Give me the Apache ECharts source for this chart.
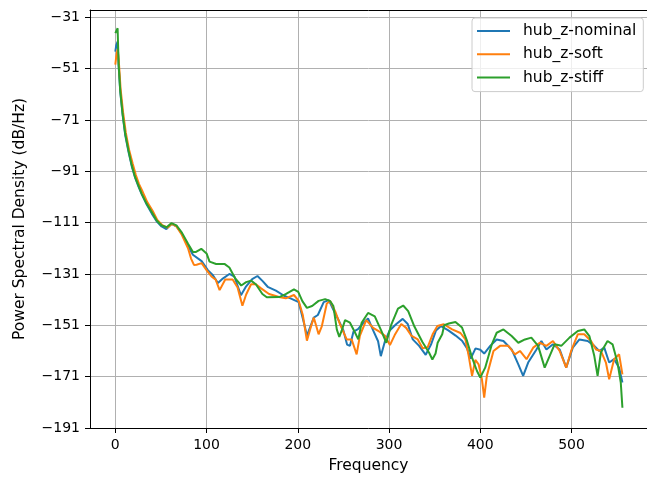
<!DOCTYPE html>
<html>
<head>
<meta charset="utf-8">
<script src="https://cdn.jsdelivr.net/npm/echarts@6/dist/echarts.min.js"></script>
<style>
    html, body { margin: 0; padding: 0; background: #fff; }
    #psd_chart { width: 647px; height: 479px; }
</style>
</head>
<body>
<div id="psd_chart"></div>
<script>
// PSD curves (frequency, dB/Hz)
var freqNominal = [0, 1, 2.5, 3.6, 5.4, 8, 10.9, 14.5, 18, 21.7, 25.4, 29, 34.4, 40, 45.3, 50.7, 56, 61.6, 67, 72.5, 79.7, 85, 94.6, 101.4, 107, 112.5, 117.8, 125, 130.5, 137.7, 143.4, 150, 155.8, 161.5, 167, 176, 185, 192, 201, 206.7, 210, 214, 217.5, 222, 228.4, 234, 239, 244.7, 250, 254, 257.2, 261, 266, 271.7, 277, 282.6, 288, 291, 295.3, 300.7, 308, 315, 320.5, 326, 333, 340.2, 346, 351.5, 357, 365, 373, 380, 385.5, 389.5, 394.8, 400, 404.3, 410.9, 418, 425.4, 434.4, 441.7, 447, 452.5, 461.6, 467, 472.5, 479.7, 487, 494.2, 501.4, 508.7, 517.8, 525, 530.4, 535.9, 541.3, 546.7, 552.2, 555.8];
var psdNominal = [-44.4, -42, -40.5, -49.5, -60, -69, -77, -83.5, -89, -93.5, -97, -100, -104, -107.5, -110.5, -112.5, -113.5, -111.5, -112.5, -115, -120, -123.5, -126, -129.5, -131.5, -134.5, -132.8, -131, -132, -139.3, -135.8, -133, -131.8, -133.8, -136, -137.5, -139.5, -140.5, -142, -150, -155, -151.3, -148, -147, -142, -141.2, -145, -149, -153, -158.5, -159, -153.5, -152.5, -150.1, -148.3, -153, -157.2, -163, -157.5, -153, -150.5, -148.5, -150.5, -156.5, -159, -162.5, -158.5, -153, -151.3, -153, -155, -157, -160, -164, -160, -160.5, -162, -159, -156.5, -157.1, -160.4, -166.2, -170.7, -165.5, -160.4, -157.1, -160.4, -158.4, -160.4, -167.5, -159.7, -156.5, -157.1, -159, -161, -159.7, -165.5, -164.2, -167.5, -173.3];

var freqSoft = [0, 1, 2.5, 3.8, 5.8, 8.5, 11.5, 15, 19, 22.5, 26, 30, 35, 41, 46, 51.5, 57, 62, 67, 72.5, 79.7, 83, 86.2, 89, 94.6, 100, 105.4, 110, 114.3, 120.5, 128.6, 134, 139.3, 143.4, 148.8, 154, 159.4, 168.5, 179.5, 186.8, 195.8, 201, 205.5, 210, 214, 217.5, 220, 222.8, 226.4, 231.8, 235.5, 240.9, 246.4, 253.6, 259, 264.5, 268.1, 275, 282.6, 289.9, 295.3, 301, 306.2, 313.4, 318.8, 324.3, 331.5, 337, 342.4, 347.8, 353, 360, 369.2, 378.3, 383.7, 387.3, 391, 394.6, 398.2, 401.8, 404.3, 407.2, 414.5, 421.7, 430.8, 438, 443.5, 450.7, 458, 465.2, 472.5, 479.7, 487, 494.2, 499.6, 506.9, 514, 521.4, 526.8, 532.2, 537.7, 541.3, 546.7, 552.2, 555.8];
var psdSoft = [-49.5, -46.5, -43.5, -48, -59, -68, -76, -82.5, -88, -92.5, -96, -99, -103, -106.5, -110, -112, -113, -111.5, -112.5, -115.5, -121, -125, -127.5, -127.4, -126.8, -129.5, -132, -133.2, -137.3, -133.2, -133.2, -136.3, -143.4, -139, -135, -135, -136.5, -138.8, -140, -140.5, -139.2, -141.5, -147, -157, -152, -148, -151, -154.5, -151.3, -142.5, -141.6, -145.5, -150.7, -156.5, -156.5, -162.3, -155, -149, -152, -153.6, -155, -158.7, -154.8, -150.5, -152, -155, -156.5, -160, -159.5, -154.5, -151.3, -150.6, -152.6, -154, -156.5, -162.9, -170.7, -164.5, -166.2, -172, -179.2, -170.7, -161, -159, -159, -162.3, -161, -164.2, -159.7, -157.8, -159, -157.1, -161, -167.5, -161, -154.5, -154.5, -157.1, -160.4, -161, -165.5, -172, -164.2, -162.3, -170.1];

var freqStiff = [0, 1, 2.5, 3.6, 5.4, 8, 10.9, 14.5, 18.1, 21.7, 25.4, 29, 34.4, 39.9, 45.3, 50.7, 56.2, 61.6, 67, 72.5, 79.7, 85.1, 88, 94.2, 100, 103.3, 110.5, 119.6, 125, 131, 138, 143.4, 148.8, 154, 161.2, 166, 179.5, 186.7, 195.8, 200.5, 205, 210, 215.7, 222.8, 230, 235.6, 239, 242.8, 245.5, 248, 251.8, 257.2, 262.7, 266.3, 270, 277, 284.4, 291.7, 297, 302.5, 309.8, 315.5, 321, 327.8, 336.6, 343.8, 347.5, 351, 353.3, 358.3, 360.5, 365.6, 372.8, 380, 385.5, 391, 396.4, 400, 405.4, 412.7, 418, 425.4, 434.4, 441.7, 449, 456, 463.4, 470.6, 476, 481.5, 488.8, 497.8, 506.9, 514, 519.6, 525, 528.6, 532.2, 539.5, 545, 550.4, 554, 555.8];
var psdStiff = [-37.2, -36.5, -35.3, -49.3, -59.6, -68.7, -76.5, -83, -88.8, -93.3, -96.6, -99.8, -103.7, -106.9, -110.2, -112.1, -112.8, -111.2, -112.1, -114.7, -119.2, -122.5, -122.5, -121.2, -123, -126.2, -127.1, -127.1, -128.5, -132.5, -135.5, -134.2, -133.6, -135, -138.8, -140.1, -140, -138.9, -137, -138, -141.6, -144.2, -143.5, -141.5, -140.8, -141.6, -143.5, -152.7, -155.5, -153.2, -149, -150, -153.8, -156.5, -150, -146.2, -147.5, -153.3, -157.8, -150.7, -144.5, -143.3, -145.5, -151.5, -157.5, -161.6, -164.3, -162, -157.8, -154.5, -151, -150.3, -149.7, -151.9, -157.1, -163.6, -168.8, -171.4, -167.5, -158.4, -153.9, -152.6, -155.2, -157.8, -156.5, -155.8, -159, -167.5, -163, -158.4, -159, -155.8, -153.2, -152.6, -155.2, -163, -170.7, -161.6, -157.1, -158.4, -165.5, -173.3, -183.1];

var seriesNames = ['hub_z-nominal', 'hub_z-soft', 'hub_z-stiff'];
var seriesColors = ['#1f77b4', '#ff7f0e', '#2ca02c'];
var xTicks = [0, 100, 200, 300, 400, 500];
var yTicks = [-191, -171, -151, -131, -111, -91, -71, -51, -31];

function pairs(xs, ys) {
    return xs.map(function (x, i) { return [x, ys[i]]; });
}
function minusSign(v) {
    return String(v).replace('-', '\u2212');
}

var psd_chart = echarts.init(document.getElementById('psd_chart'), null, {renderer: 'canvas'});
var font = 'DejaVu Sans';
var lineIcon = 'path://M0,0 H33 V2 H0 Z';

var psd_option = {
    animation: false,
    backgroundColor: '#fff',
    textStyle: { fontFamily: font },
    grid: { left: 90, top: 10, width: 561, height: 419.3 },
    legend: {
        orient: 'vertical',
        left: 472,
        top: 18,
        padding: [4, 7, 5, 5],
        itemWidth: 33,
        itemHeight: 2,
        itemGap: 5.3,
        icon: lineIcon,
        backgroundColor: 'rgba(255,255,255,0.8)',
        borderColor: '#cccccc',
        borderWidth: 1,
        borderRadius: 3,
        textStyle: { fontFamily: font, fontSize: 15.5, color: '#000', lineHeight: 18, padding: [0, 0, 0, 8] },
        data: seriesNames.map(function (n, i) {
            return { name: n, itemStyle: { color: seriesColors[i] } };
        })
    },
    xAxis: [{
        type: 'value',
        min: -27.75,
        max: 582.75,
        name: 'Frequency',
        nameLocation: 'middle',
        nameGap: 30,
        nameTextStyle: { fontFamily: font, fontSize: 15.5, color: '#000' },
        axisLine: { show: true, onZero: false, lineStyle: { color: '#000', width: 1 } },
        axisTick: { show: true, length: 5, customValues: xTicks, lineStyle: { color: '#000' } },
        axisLabel: { margin: 10, fontFamily: font, fontSize: 14, color: '#000', customValues: xTicks },
        splitLine: { show: true, lineStyle: { color: '#b0b0b0', width: 1 } }
    }, {
        type: 'value',
        position: 'top',
        min: -27.75,
        max: 582.75,
        axisLine: { show: true, onZero: false, lineStyle: { color: '#000', width: 1 } },
        axisTick: { show: false },
        axisLabel: { show: false },
        splitLine: { show: false }
    }],
    yAxis: {
        type: 'value',
        min: -191,
        max: -28.2,
        interval: 20,
        name: 'Power Spectral Density (dB/Hz)',
        nameLocation: 'middle',
        nameGap: 62,
        nameTextStyle: { fontFamily: font, fontSize: 15.5, color: '#000' },
        axisLine: { show: true, onZero: false, lineStyle: { color: '#000', width: 1 } },
        axisTick: { show: true, length: 5, customValues: yTicks, lineStyle: { color: '#000' } },
        axisLabel: { margin: 10, fontFamily: font, fontSize: 14, color: '#000', customValues: yTicks, formatter: minusSign },
        splitLine: { show: true, lineStyle: { color: '#b0b0b0', width: 1 } }
    },
    series: [
        { name: seriesNames[0], data: pairs(freqNominal, psdNominal) },
        { name: seriesNames[1], data: pairs(freqSoft, psdSoft) },
        { name: seriesNames[2], data: pairs(freqStiff, psdStiff) }
    ].map(function (s, i) {
        s.type = 'line';
        s.showSymbol = false;
        s.symbol = 'none';
        s.color = seriesColors[i];
        s.lineStyle = { color: seriesColors[i], width: 2 };
        s.z = 3 + i;
        return s;
    })
};
psd_chart.setOption(psd_option);
</script>
</body>
</html>
